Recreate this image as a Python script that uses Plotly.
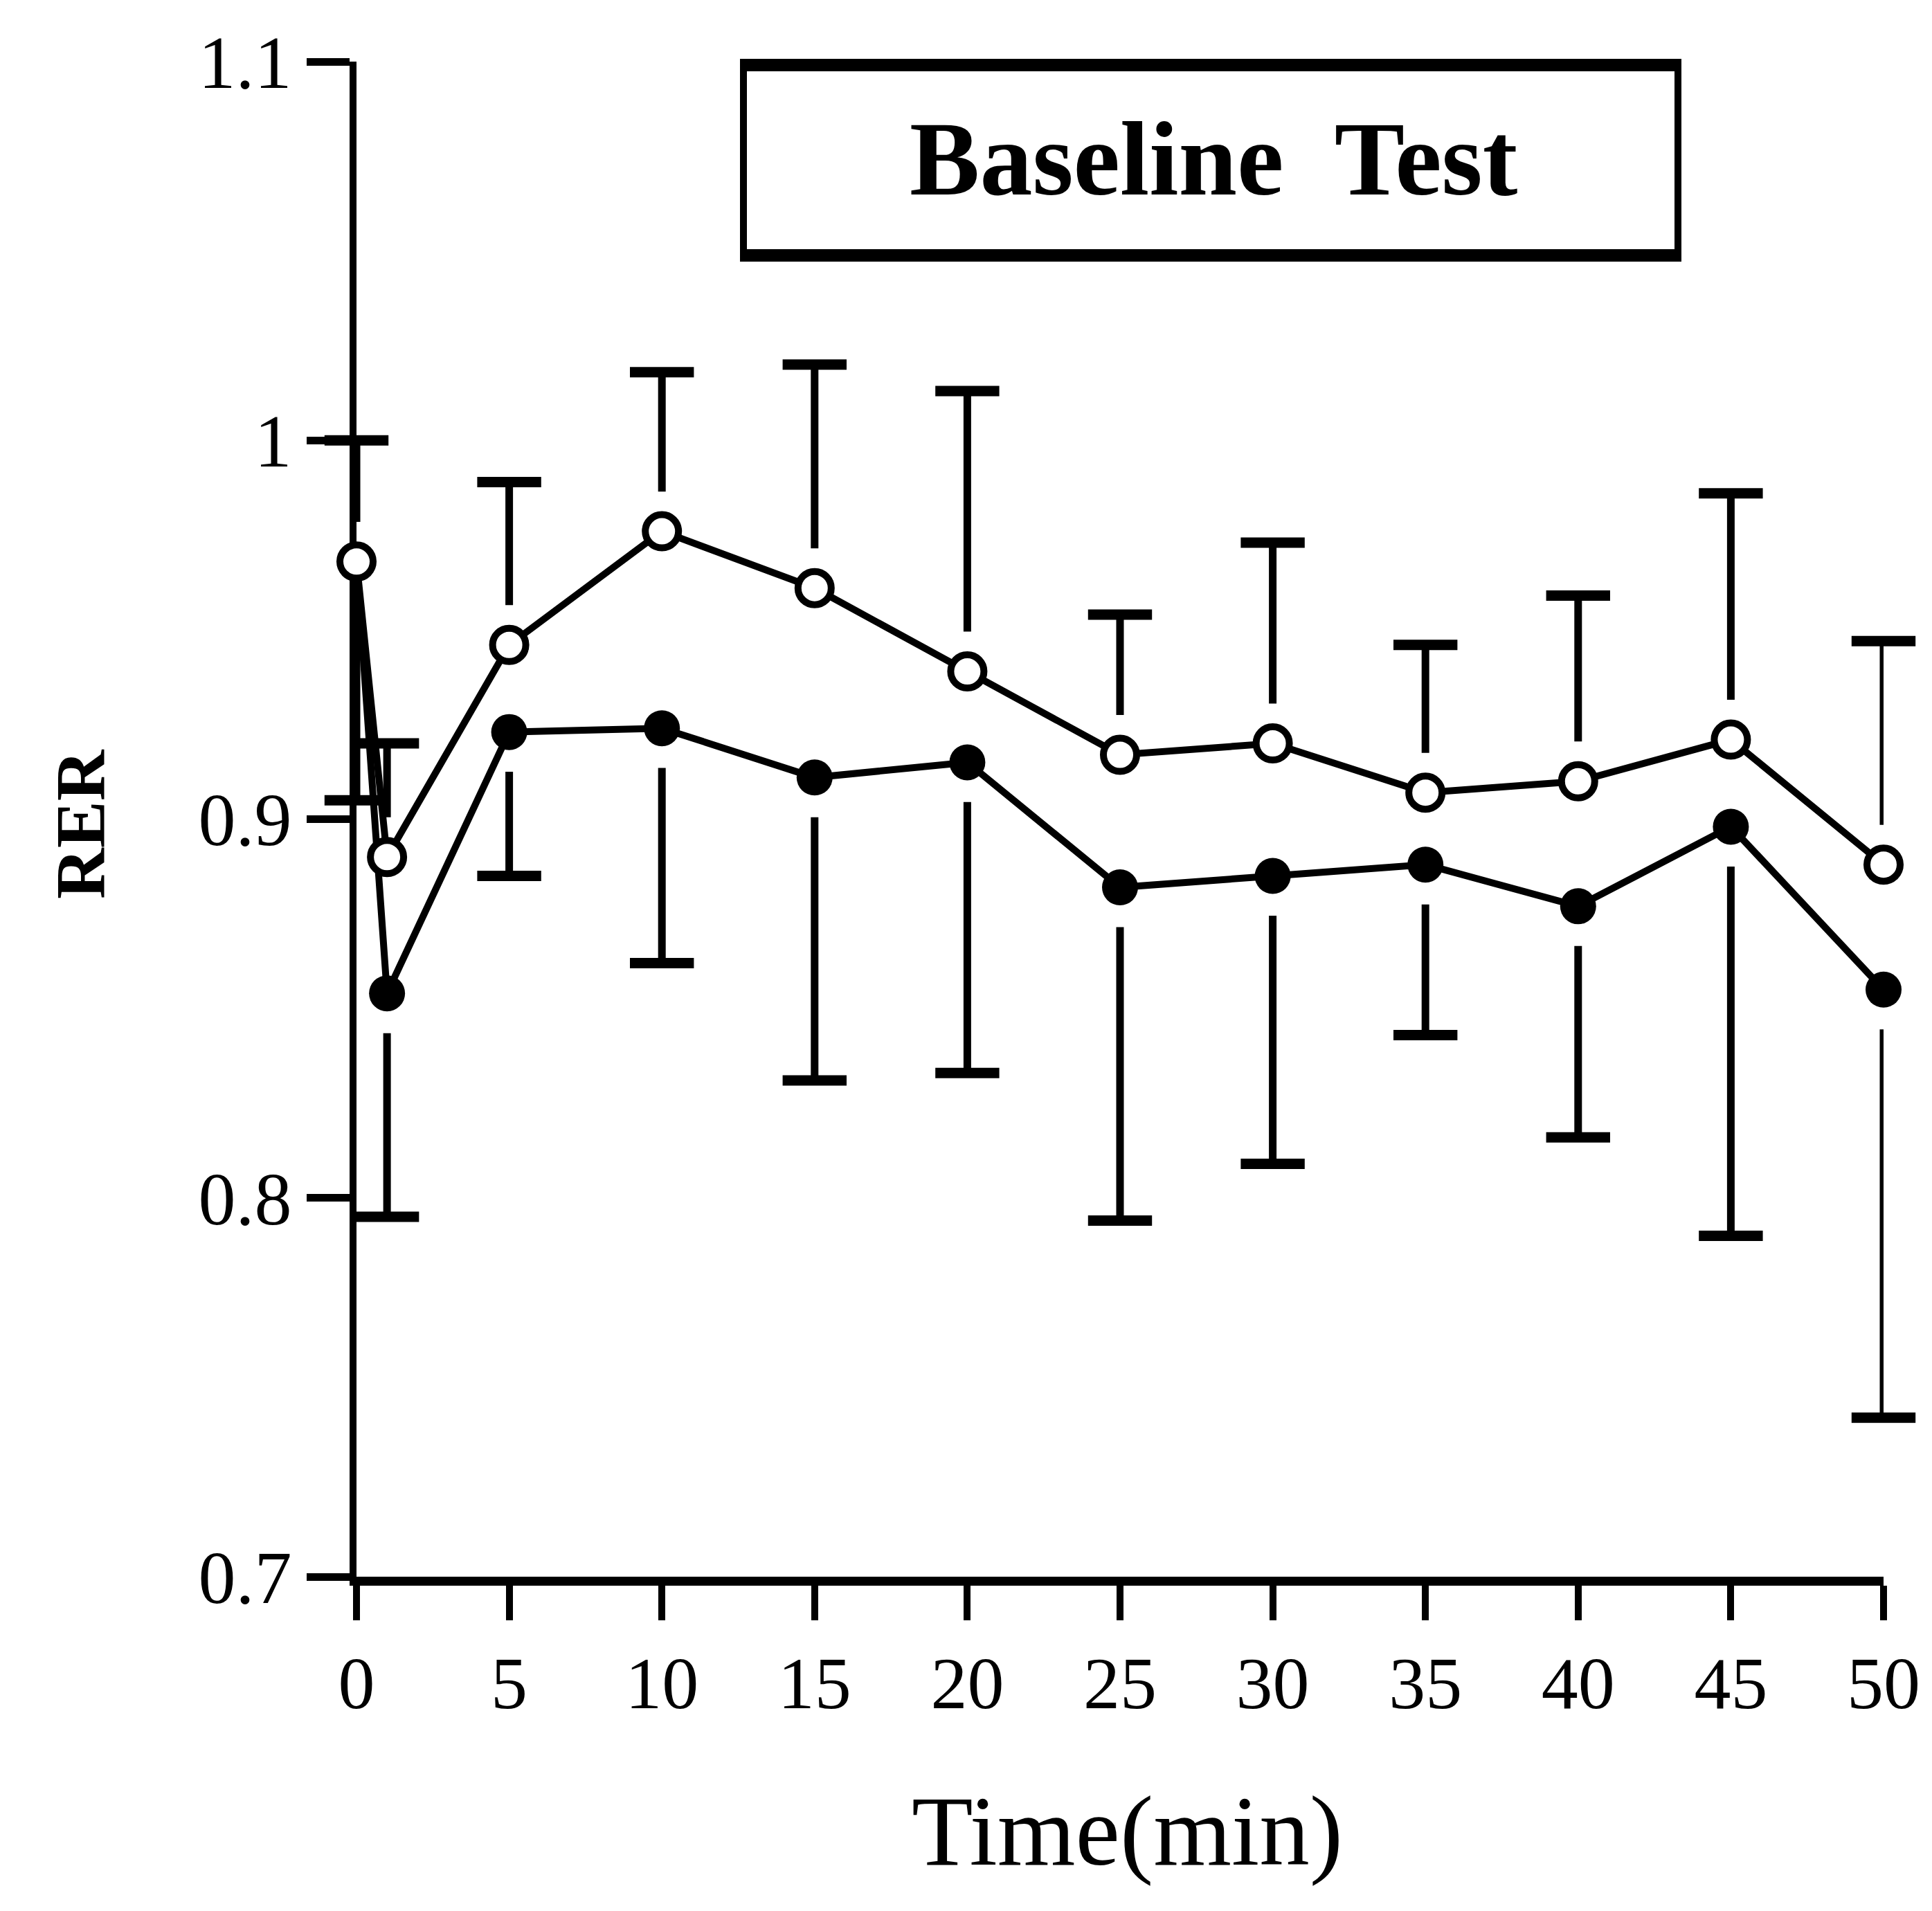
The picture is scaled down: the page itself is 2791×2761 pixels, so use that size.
import plotly.graph_objects as go

# ---------------- data ----------------
time_min = [0, 1, 5, 10, 15, 20, 25, 30, 35, 40, 45, 50]
open_mean = [0.968, 0.890, 0.946, 0.976, 0.961, 0.939, 0.917, 0.920, 0.907, 0.910, 0.921, 0.888]
open_err_up = [0.032, 0.030, 0.043, 0.042, 0.059, 0.074, 0.037, 0.053, 0.039, 0.049, 0.065, 0.059]
filled_mean = [0.968, 0.854, 0.923, 0.924, 0.911, 0.915, 0.882, 0.885, 0.888, 0.877, 0.898, 0.855]
filled_err_down = [0.063, 0.059, 0.038, 0.062, 0.080, 0.082, 0.088, 0.076, 0.045, 0.061, 0.108, 0.113]

x_tick_vals = [0, 5, 10, 15, 20, 25, 30, 35, 40, 45, 50]
x_tick_text = ["0", "5", "10", "15", "20", "25", "30", "35", "40", "45", "50"]
y_tick_vals = [0.7, 0.8, 0.9, 1.0, 1.1]
y_tick_text = ["0.7", "0.8", "0.9", "1", "1.1"]

title_text = "Baseline  Test"
x_title = "Time(min)"
y_title = "RER"

# ---------------- styling ----------------
W, H = 2791, 2761
L, R, T, B = 507, 78, 81, 491
FONT = "Liberation Serif"
GAP = 0.0105      # gap between marker centre and start of error stem (data units)

fig = go.Figure()

for ys, errs, d in [(open_mean, open_err_up, 1), (filled_mean, filled_err_down, -1)]:
    start = [y + d * GAP for y in ys]
    length = [e - GAP for e in errs]
    ends = [y + d * e for y, e in zip(ys, errs)]
    zeros = [0] * len(ys)
    # stems (native error bars without caps, drawn from just beyond the marker)
    fig.add_trace(go.Scatter(
        x=time_min, y=start, mode="markers",
        marker=dict(size=1, opacity=0, color="white"),
        error_y=dict(type="data", symmetric=False,
                     array=length if d > 0 else zeros,
                     arrayminus=zeros if d > 0 else length,
                     width=0, thickness=11, color="black"),
        showlegend=False, hoverinfo="skip", cliponaxis=False))
    # caps
    fig.add_trace(go.Scatter(
        x=time_min, y=ends, mode="markers",
        marker=dict(symbol="line-ew", size=66, color="black",
                    line=dict(color="black", width=15)),
        showlegend=False, hoverinfo="skip", cliponaxis=False))

fig.add_trace(go.Scatter(
    x=time_min, y=filled_mean, mode="lines+markers", name="filled",
    line=dict(color="black", width=10),
    marker=dict(symbol="circle", size=52, color="black", line=dict(color="black", width=0)),
    showlegend=False, cliponaxis=False))

fig.add_trace(go.Scatter(
    x=time_min, y=open_mean, mode="lines+markers", name="open",
    line=dict(color="black", width=10),
    marker=dict(symbol="circle", size=48, color="white", line=dict(color="black", width=10)),
    showlegend=False, cliponaxis=False))

fig.update_layout(
    width=W, height=H,
    margin=dict(l=L, r=R, t=T, b=B, pad=0),
    paper_bgcolor="white", plot_bgcolor="white",
    font=dict(family=FONT, color="black", size=106),
    showlegend=False,
)

fig.update_xaxes(
    range=[0, 50], showgrid=False, zeroline=False,
    showline=True, linecolor="black", linewidth=13, layer="below traces",
    ticks="outside", ticklen=50, tickwidth=10, tickcolor="black",
    tickvals=x_tick_vals, ticktext=x_tick_text,
    tickfont=dict(family=FONT, size=106, color="black"),
)
fig.update_yaxes(
    range=[0.7, 1.1], showgrid=False, zeroline=False,
    showline=True, linecolor="black", linewidth=10, layer="below traces",
    ticks="outside", ticklen=62, tickwidth=11, tickcolor="black",
    tickvals=y_tick_vals, ticktext=y_tick_text,
    tickfont=dict(family=FONT, size=108, color="black"),
)

pw, ph = W - L - R, H - T - B


def px(xp):
    return (xp - L) / pw


def py(yp):
    return (H - B - yp) / ph


# title box
fig.add_shape(type="rect", xref="paper", yref="paper",
              x0=px(1066), x1=px(2416), y0=py(361), y1=py(86),
              line=dict(color="black", width=10), fillcolor="white", layer="above")
for yb in (86, 361):
    fig.add_shape(type="line", xref="paper", yref="paper",
                  x0=px(1061), x1=px(2421), y0=py(yb), y1=py(yb),
                  line=dict(color="black", width=18), layer="above")

fig.add_annotation(text="<b>" + title_text + "</b>", xref="paper", yref="paper",
                   x=px(1745), y=py(222), xanchor="center", yanchor="middle",
                   showarrow=False, font=dict(family=FONT, size=152, color="black"))
fig.add_annotation(text=x_title, xref="paper", yref="paper",
                   x=px(1620), y=py(2637), xanchor="center", yanchor="middle",
                   showarrow=False, font=dict(family=FONT, size=145, color="black"))
fig.add_annotation(text="<b>" + y_title + "</b>", xref="paper", yref="paper",
                   x=px(108), y=py(1183), xanchor="center", yanchor="middle",
                   textangle=-90, showarrow=False,
                   font=dict(family=FONT, size=102, color="black"))

fig.write_html("out.html")
